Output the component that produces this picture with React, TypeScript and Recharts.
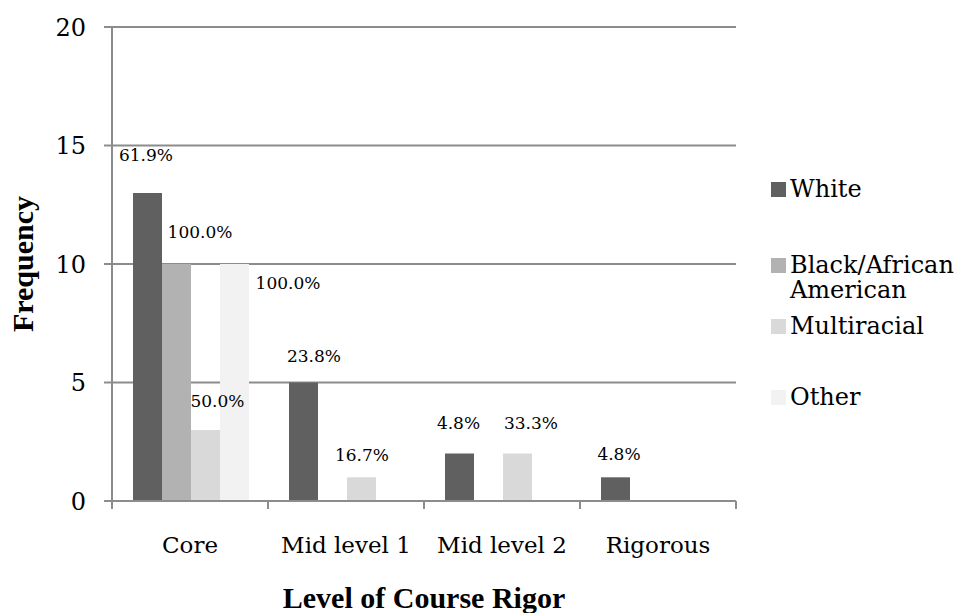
import { BarChart, Bar, XAxis, YAxis, CartesianGrid, Legend, LabelList } from "recharts";

const categories = ["Core", "Mid level 1", "Mid level 2", "Rigorous"];
const white = [13, 5, 2, 1];
const blackAfricanAmerican = [10, 0, 0, 0];
const multiracial = [3, 1, 2, 0];
const other = [10, 0, 0, 0];

// percent labels shown over the bars (null = no label)
const whitePct = [61.9, 23.8, 4.8, 4.8];
const blackPct = [100.0, null, null, null];
const multiPct = [50.0, 16.7, 33.3, null];
const otherPct = [100.0, null, null, null];

const yTicks = [0, 5, 10, 15, 20];

// regular-weight Liberation Serif falls back to sans here, so DejaVu Serif is used for plain text
const FONT = "'DejaVu Serif', serif";
const FONT_BOLD = "'Liberation Serif', 'Times New Roman', serif";
const GRID = "#8c8c8c";
const W = 961;
const H = 613;
const PLOT_LEFT = 112;
const PLOT_RIGHT = 736;
const PLOT_TOP = 27;
const PLOT_BOTTOM = 501;
const BAND = (PLOT_RIGHT - PLOT_LEFT) / categories.length;

const data = categories.map((c, i) => ({
  category: c,
  white: white[i],
  black: blackAfricanAmerican[i],
  multi: multiracial[i],
  other: other[i],
  whitePct: whitePct[i],
  blackPct: blackPct[i],
  multiPct: multiPct[i],
  otherPct: otherPct[i],
}));

// manual label placement, like the hand-dragged labels in the original
const nudges: Record<string, ([number, number] | null)[]> = {
  white: [[-1.5, -38], [10.5, -27], [-1, -31], [3.5, -23]],
  black: [[23.5, -32], null, null, null],
  multi: [[12, -29], [0.5, -22], [13.5, -31], null],
  other: [[53.5, 19], null, null, null],
};

const series = [
  { key: "white", name: "White", color: "#606060" },
  { key: "black", name: "Black/African American", color: "#b2b2b2" },
  { key: "multi", name: "Multiracial", color: "#d9d9d9" },
  { key: "other", name: "Other", color: "#f2f2f2" },
];

const legendTops = [0, 76, 137, 208];

function pctLabel(key: string) {
  return (props: any) => {
    const { x, y, width, value, index } = props;
    if (value == null) return null;
    const n = nudges[key][index] || [0, -20];
    const cx = Number(x) + Number(width) / 2 + n[0];
    const cy = Number(y) + n[1];
    return (
      <text x={cx} y={cy + 6} textAnchor="middle" fontSize={17} style={{ fontFamily: FONT }} fill="#000">
        {Number(value).toFixed(1)}%
      </text>
    );
  };
}

function CategoryTick(props: any) {
  const { x, y, payload, index } = props;
  const half = BAND / 2;
  const last = index === categories.length - 1;
  return (
    <g>
      <line x1={x - half} x2={x - half} y1={y} y2={y + 8} stroke={GRID} strokeWidth={2} />
      {last && <line x1={x + half} x2={x + half} y1={y} y2={y + 8} stroke={GRID} strokeWidth={2} />}
      <text x={x} y={y + 52} textAnchor="middle" fontSize={23} style={{ fontFamily: FONT }} fill="#000">
        {payload.value}
      </text>
    </g>
  );
}

function LegendBox({ payload }: any) {
  const items = series.map((s) => (payload || []).find((p: any) => p.dataKey === s.key || p.value === s.name)).filter(Boolean);
  return (
    <div style={{ position: "relative", width: 190, height: 240, fontFamily: FONT, fontSize: 24, lineHeight: "25px" }}>
      {items.map((p: any, i: number) => (
        <div key={p.value} style={{ position: "absolute", top: legendTops[i], left: 0, width: 190, display: "flex", alignItems: "flex-start" }}>
          <span style={{ display: "inline-block", width: 15, height: 15, marginTop: 5, marginRight: 4, background: p.color, flex: "none" }} />
          <span style={{ color: "#000", width: 172 }}>{p.value}</span>
        </div>
      ))}
    </div>
  );
}

export default function App() {
  return (
    <div style={{ position: "absolute", left: 0, top: 0, width: W, height: H, background: "#fff" }}>
      <BarChart
        width={W}
        height={H}
        data={data}
        margin={{ top: PLOT_TOP, right: W - PLOT_RIGHT, bottom: 0, left: 0 }}
        barCategoryGap={21}
        barGap={0}
      >
        <CartesianGrid vertical={false} stroke={GRID} strokeWidth={2} />
        <XAxis
          dataKey="category"
          height={H - PLOT_BOTTOM}
          axisLine={{ stroke: GRID, strokeWidth: 2 }}
          tickLine={false}
          tickSize={0}
          tickMargin={0}
          interval={0}
          tick={<CategoryTick />}
          label={{
            content: (p: any) => {
              const vb = p.viewBox || {};
              return (
                <text x={vb.x + vb.width / 2} y={vb.y + 107} textAnchor="middle" fontSize={30} fontWeight="bold" style={{ fontFamily: FONT_BOLD }} fill="#000">
                  Level of Course Rigor
                </text>
              );
            },
          }}
        />
        <YAxis
          width={PLOT_LEFT}
          domain={[0, 20]}
          ticks={yTicks}
          interval={0}
          axisLine={{ stroke: GRID, strokeWidth: 2 }}
          tickLine={{ stroke: GRID, strokeWidth: 2 }}
          tickSize={8}
          tickMargin={18}
          tick={{ fontSize: 24, fontFamily: "DejaVu Serif", fill: "#000" }}
          label={{
            content: (p: any) => {
              const vb = p.viewBox || {};
              const cy = vb.y + vb.height / 2;
              return (
                <text x={33} y={cy} transform={`rotate(-90, 33, ${cy})`} textAnchor="middle" fontSize={30} fontWeight="bold" style={{ fontFamily: FONT_BOLD }} fill="#000">
                  Frequency
                </text>
              );
            },
          }}
        />
        <Legend
          layout="horizontal"
          align="center"
          verticalAlign="middle"
          content={<LegendBox />}
          wrapperStyle={{ left: 771, top: 177, width: 190 }}
        />
        {series.map((s) => (
          <Bar key={s.key} dataKey={s.key} name={s.name} fill={s.color} isAnimationActive={false}>
            <LabelList dataKey={`${s.key}Pct`} content={pctLabel(s.key)} />
          </Bar>
        ))}
      </BarChart>
    </div>
  );
}
